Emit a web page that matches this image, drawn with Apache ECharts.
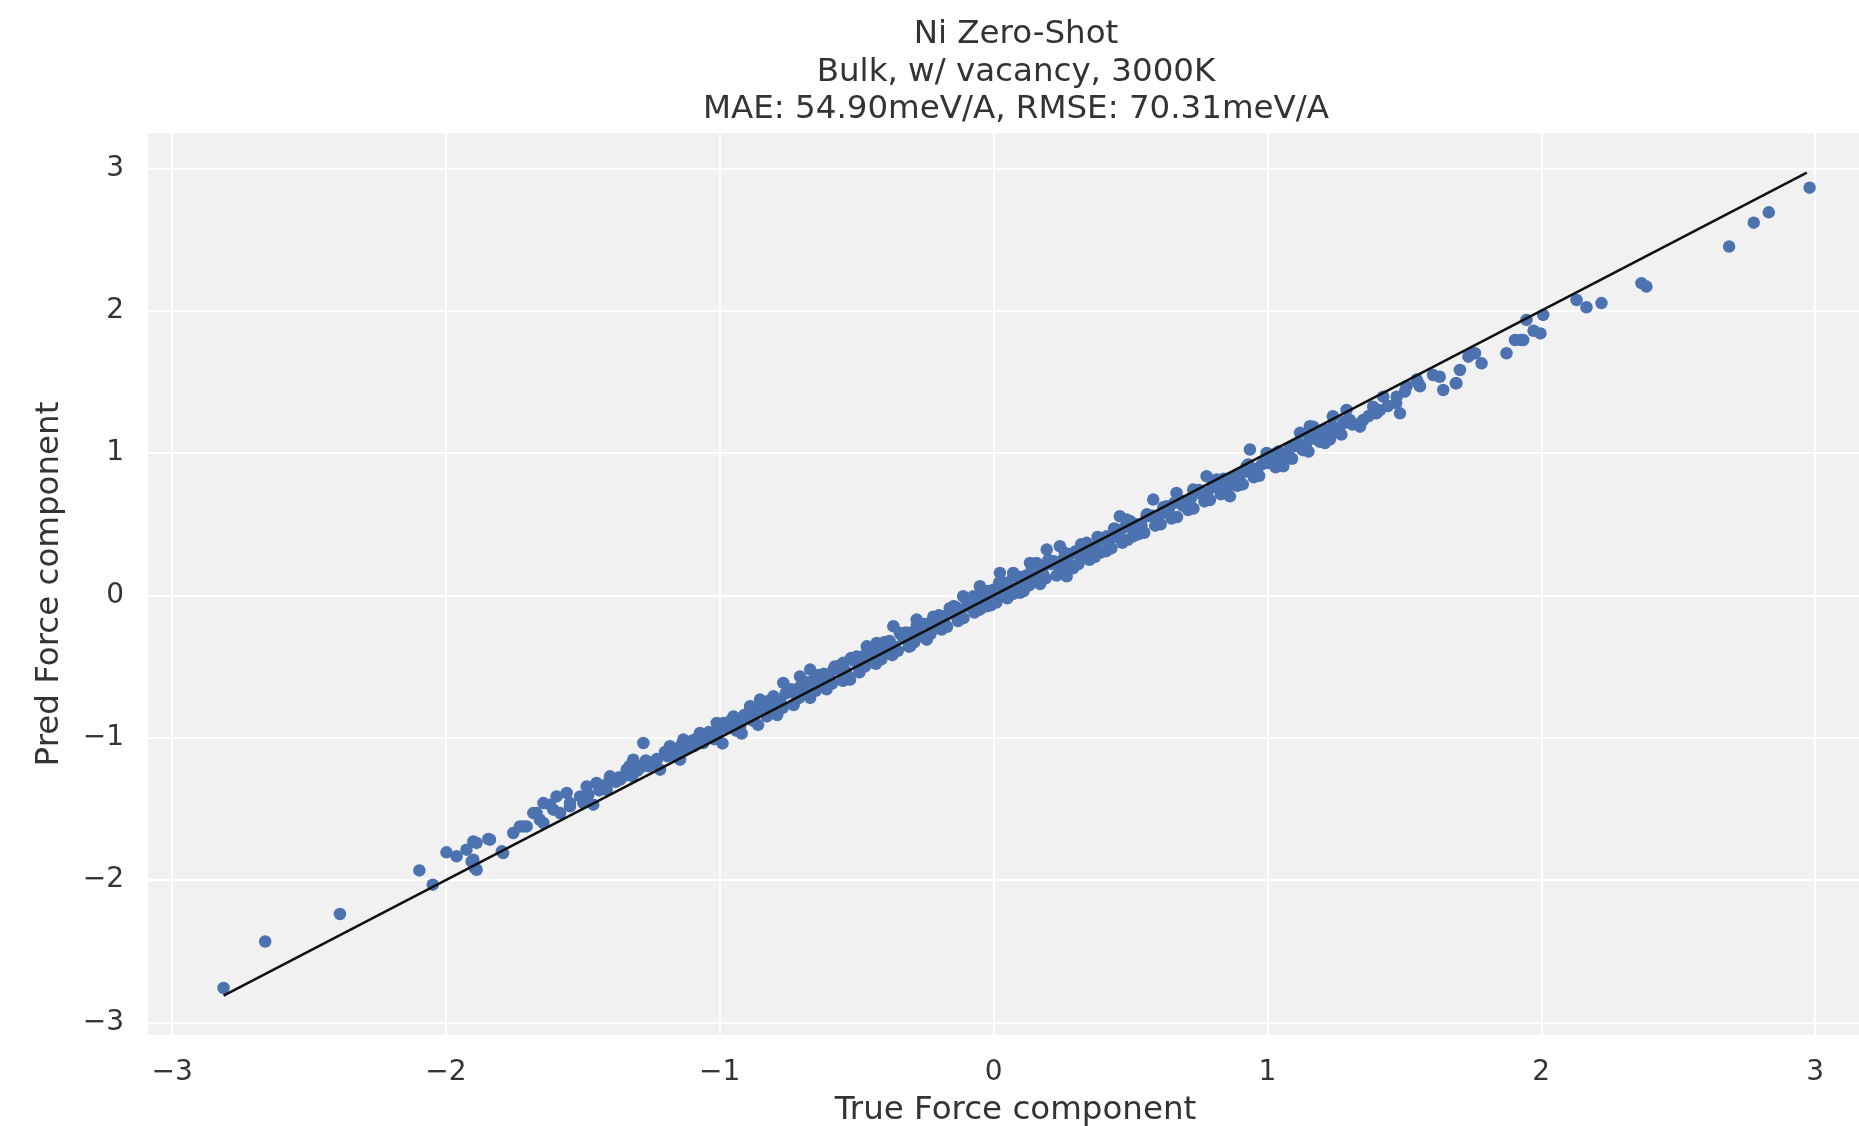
<!DOCTYPE html>
<html>
<head>
<meta charset="utf-8">
<script src="https://cdn.jsdelivr.net/npm/echarts@6/dist/echarts.min.js"></script>
<style>html,body{margin:0;padding:0;background:#fff;}#c{width:1859px;height:1126px;}</style>
</head>
<body>
<div id="c"></div>
<script>
const titleLines = ["Ni Zero-Shot", "Bulk, w/ vacancy, 3000K", "MAE: 54.90meV/A, RMSE: 70.31meV/A"];
const xAxisName = "True Force component";
const yAxisName = "Pred Force component";
const tickValues = [-3, -2, -1, 0, 1, 2, 3];
const xRange = [-3.088, 3.248];
const yRange = [-3.088, 3.248];
const parityLine = [-2.812, 2.970];

const trueForce = [
-2.812,-2.660,-2.387,-2.097,-2.048,-1.998,-1.961,-1.925,-1.900,-1.906,-1.894,-1.845,-1.796,-1.754,-1.717,-1.669,-1.644,-1.620,-1.583,-1.547,-1.498,-1.462,
-1.011,-1.035,-1.072,-1.096,-1.133,-1.145,-1.182,-1.218,-1.230,-1.279,-1.291,-1.316,-1.340,-1.364,-1.401,-1.413,-1.450,-1.486,-1.510,-1.547,-1.559,-1.596,-1.608,-1.644,-1.657,-1.681,-1.705,-1.730,-1.791,-1.839,-1.888,-1.900,-1.888,
0.157,0.133,0.096,0.072,0.023,0.011,-0.025,-0.050,-0.074,-0.111,-0.135,-0.147,-0.184,-0.220,-0.244,-0.281,-0.305,-0.342,-0.366,-0.390,-0.427,-0.463,-0.488,-0.524,-0.549,-0.585,-0.622,-0.670,-0.707,-0.731,-0.768,-0.804,-0.828,-0.853,-0.889,-0.926,-0.950,-0.987,-1.023,-1.060,
1.239,1.228,1.192,1.155,1.119,1.094,1.058,1.033,0.997,0.936,0.924,0.875,0.863,0.851,0.815,0.778,0.766,0.729,0.705,0.668,0.632,0.583,0.595,0.559,0.510,0.486,0.461,0.449,0.413,0.388,0.376,0.340,0.303,0.267,0.254,0.242,0.194,0.181,0.145,0.133,0.096,0.072,0.048,0.023,
1.289,1.240,1.216,1.167,1.143,1.191,1.277,1.301,1.338,1.350,1.386,1.398,1.423,1.472,1.484,1.508,1.545,1.557,1.605,1.629,1.642,1.690,1.703,1.752,1.782,1.873,1.925,1.972,1.997,2.007,2.129,2.165,2.220,1.946,1.934,1.904,1.758,1.734,1.688,1.551,1.502,
2.366,2.384,2.686,2.776,2.831,2.980,
-1.05,-1.02,-0.98,-0.95,-0.93,-0.90,-0.87,-0.84,-0.81,-0.78,-0.75,-0.72,-0.69,-0.66,-0.63,-0.60,-0.57,-0.54,-0.51,-0.48,-0.45,-0.42,-0.39,-0.36,-0.33,-0.30,-0.27,-0.24,-0.21,-0.18,-0.15,-0.12,-0.09,-0.06,-0.03,0.00,0.03,0.06,0.09,0.12,0.15,0.18,0.21,0.24,0.27,0.30,0.33,0.36,0.39,0.42,0.45,0.48,0.51,0.54,0.57,0.60,0.63,0.66,0.69,0.72,0.75,0.78,0.81,0.84,0.87,0.90,0.93,0.96,0.99,1.02,1.05,1.08,1.11,1.14,1.17,1.20,
-0.99,-0.96,-0.92,-0.89,-0.86,-0.82,-0.79,-0.76,-0.73,-0.70,-0.67,-0.64,-0.61,-0.58,-0.55,-0.52,-0.49,-0.46,-0.43,-0.40,-0.37,-0.34,-0.31,-0.28,-0.25,-0.22,-0.19,-0.16,-0.13,-0.10,-0.07,-0.04,-0.01,0.02,0.05,0.08,0.11,0.14,0.17,0.20,0.23,0.26,0.29,0.32,0.35,0.38,0.41,0.44,0.47,0.50,0.53,0.56,0.59,0.62,0.65,0.68,0.71,0.74,0.77,0.80,0.83,0.86,0.89,0.92,0.95,0.98,
1.01,1.04,1.07,1.10,1.13,1.16,1.19,1.22,1.25,1.28,
-1.08,-1.11,-1.14,-1.17,-1.20,-1.24,-1.27,-1.30,-1.33,-1.37,
-1.48,-1.44,-1.41,-1.38,-1.35,-1.32,-1.29,-1.26,-1.23,-1.19,-1.16,-1.13,-1.10,-1.07,-1.04,-1.01,-0.97,-0.94,-0.91,-0.88,-0.85,-0.83,-0.80,-0.77,-0.74,-0.71,-0.68,-0.65,-0.62,-0.59,-0.56,-0.53,-0.50,-0.47,-0.44,-0.41,-0.38,-0.35,-0.32,-0.29,-0.26,-0.23,-0.20,-0.17,-0.14,-0.11,-0.08,-0.05,-0.02,0.01,
0.04,0.07,0.10,0.13,0.16,0.19,0.22,0.25,0.28,0.31,0.34,0.37,0.40,0.43,0.46,0.49,0.52,0.55,0.58,0.61,0.64,0.67,0.70,0.73,0.76,0.79,0.82,0.85,0.88,0.91,0.94,0.97,1.00,1.03,1.06,1.09,1.12,1.15,1.18,1.21,1.24,1.27,1.31,1.34,1.37,1.41,1.44,1.47
];
const predForce = [
-2.758,-2.431,-2.238,-1.932,-2.032,-1.805,-1.833,-1.786,-1.728,-1.869,-1.916,-1.711,-1.798,-1.669,-1.623,-1.529,-1.599,-1.470,-1.529,-1.482,-1.459,-1.470,
-0.896,-0.990,-0.966,-1.060,-1.013,-1.154,-1.060,-1.224,-1.154,-1.037,-1.201,-1.154,-1.224,-1.294,-1.271,-1.365,-1.318,-1.342,-1.412,-1.459,-1.388,-1.412,-1.505,-1.459,-1.576,-1.529,-1.623,-1.623,-1.810,-1.716,-1.739,-1.857,-1.927,
0.228,0.088,0.018,0.134,0.158,-0.006,-0.077,0.064,-0.006,-0.006,-0.147,-0.077,-0.147,-0.217,-0.311,-0.170,-0.358,-0.264,-0.217,-0.404,-0.334,-0.358,-0.474,-0.592,-0.474,-0.521,-0.615,-0.521,-0.569,-0.685,-0.615,-0.709,-0.850,-0.732,-0.779,-0.920,-0.850,-0.896,-0.966,-1.037,
1.259,1.095,1.118,1.188,1.142,1.048,0.907,0.954,1.001,1.025,0.907,0.814,0.696,0.743,0.814,0.837,0.720,0.743,0.650,0.720,0.626,0.673,0.533,0.556,0.415,0.533,0.556,0.462,0.415,0.299,0.345,0.369,0.299,0.134,0.252,0.345,0.322,0.205,0.158,0.228,0.111,0.158,0.088,0.064,
1.302,1.185,1.162,1.185,1.138,1.115,1.209,1.232,1.185,1.232,1.325,1.279,1.396,1.396,1.279,1.469,1.516,1.469,1.548,1.536,1.443,1.490,1.583,1.701,1.630,1.701,1.794,1.859,1.840,1.970,2.075,2.024,2.053,1.935,1.794,1.794,1.701,1.677,1.490,1.490,1.431,
2.193,2.169,2.450,2.618,2.691,2.864,
-1.00,-1.01,-0.93,-0.92,-0.87,-0.86,-0.83,-0.78,-0.77,-0.74,-0.68,-0.66,-0.67,-0.60,-0.58,-0.58,-0.52,-0.53,-0.46,-0.43,-0.44,-0.38,-0.35,-0.36,-0.30,-0.26,-0.27,-0.20,-0.18,-0.19,-0.11,-0.10,-0.08,-0.02,-0.04,0.04,0.00,0.05,0.06,0.14,0.11,0.15,0.22,0.20,0.24,0.31,0.28,0.33,0.40,0.37,0.41,0.48,0.46,0.49,0.56,0.55,0.58,0.65,0.63,0.68,0.74,0.72,0.76,0.82,0.80,0.85,0.92,0.89,0.94,0.99,0.97,1.03,1.07,1.06,1.12,1.15,
-1.04,-0.88,-0.97,-0.81,-0.91,-0.74,-0.84,-0.69,-0.77,-0.62,-0.72,-0.56,-0.66,-0.50,-0.60,-0.44,-0.54,-0.38,-0.48,-0.33,-0.42,-0.27,-0.36,-0.21,-0.30,-0.15,-0.24,-0.09,-0.18,-0.03,-0.12,0.03,-0.07,0.09,-0.02,0.14,0.03,0.19,0.08,0.25,0.14,0.30,0.19,0.36,0.25,0.41,0.31,0.47,0.37,0.52,0.43,0.57,0.49,0.62,0.54,0.67,0.60,0.72,0.66,0.77,0.71,0.82,0.77,0.87,0.83,0.92,
0.93,1.01,0.97,1.05,1.02,1.10,1.08,1.15,1.16,1.22,
-1.00,-1.06,-1.05,-1.12,-1.10,-1.17,-1.16,-1.23,-1.20,-1.28,
-1.40,-1.37,-1.32,-1.31,-1.27,-1.27,-1.21,-1.20,-1.15,-1.13,-1.08,-1.08,-1.02,-1.03,-0.96,-0.97,-0.90,-0.95,-0.84,-0.88,-0.79,-0.84,-0.72,-0.79,-0.66,-0.72,-0.61,-0.67,-0.55,-0.62,-0.49,-0.57,-0.43,-0.50,-0.37,-0.45,-0.32,-0.39,-0.26,-0.33,-0.20,-0.27,-0.14,-0.22,-0.08,-0.16,-0.03,-0.10,0.03,-0.05,
0.08,0.01,0.13,0.07,0.18,0.12,0.24,0.17,0.29,0.22,0.34,0.27,0.40,0.33,0.45,0.39,0.50,0.44,0.56,0.50,0.61,0.55,0.66,0.61,0.71,0.67,0.77,0.72,0.83,0.78,0.88,0.84,0.93,0.90,0.99,0.96,1.04,1.01,1.10,1.07,1.14,1.13,1.20,1.21,1.26,1.30,1.33,1.35
];

const points = trueForce.map((x, i) => [x, predForce[i]]);
const lineData = parityLine.map(v => [v, v]);

const txt = '#333333';
const font = 'DejaVu Sans';
const chart = echarts.init(document.getElementById('c'), null, {renderer: 'canvas'});
chart.setOption({
  animation: false,
  backgroundColor: '#ffffff',
  textStyle: {fontFamily: font},
  title: {
    text: titleLines.join('\n'),
    left: 1016,
    top: 16,
    padding: 0,
    textAlign: 'center',
    textStyle: {fontFamily: font, fontSize: 32.5, fontWeight: 'normal', color: txt, lineHeight: 37.5}
  },
  grid: {
    left: 148, top: 133, height: 902, width: 1735,
    outerBoundsMode: 'none', containLabel: false,
    show: true, backgroundColor: '#f1f1f1', borderWidth: 0
  },
  xAxis: {
    type: 'value', min: xRange[0], max: xRange[1],
    name: xAxisName, nameLocation: 'middle', nameGap: 59,
    nameTextStyle: {fontFamily: font, fontSize: 32.5, color: txt},
    axisLine: {show: false},
    axisTick: {show: false, customValues: tickValues},
    axisLabel: {customValues: tickValues, fontFamily: font, fontSize: 28, color: txt, margin: 24,
      formatter: v => (v < 0 ? '\u2212' + Math.abs(v) : String(v))},
    splitLine: {show: true, lineStyle: {color: '#ffffff', width: 2}}
  },
  yAxis: {
    type: 'value', min: yRange[0], max: yRange[1],
    name: yAxisName, nameLocation: 'middle', nameGap: 82,
    nameTextStyle: {fontFamily: font, fontSize: 32.5, color: txt},
    axisLine: {show: false},
    axisTick: {show: false, customValues: tickValues},
    axisLabel: {customValues: tickValues, fontFamily: font, fontSize: 28, color: txt, margin: 24,
      formatter: v => (v < 0 ? '\u2212' + Math.abs(v) : String(v))},
    splitLine: {show: true, lineStyle: {color: '#ffffff', width: 2}}
  },
  series: [
    {
      type: 'scatter', data: points, symbolSize: 12.5,
      itemStyle: {color: '#4c72b0', opacity: 1}, z: 2
    },
    {
      type: 'line', data: lineData, symbol: 'none', z: 3,
      lineStyle: {color: '#111111', width: 2.6}
    }
  ]
});
</script>
</body>
</html>
